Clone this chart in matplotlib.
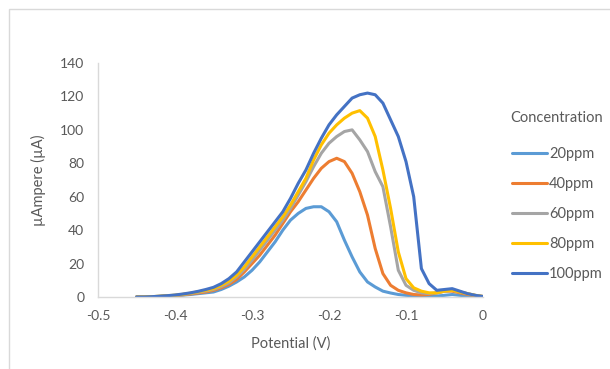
import numpy as np
import matplotlib
matplotlib.use("Agg")
import matplotlib.pyplot as plt
from matplotlib.patches import Rectangle

plt.rcParams['font.family'] = ['Lato', 'DejaVu Sans']

# Potential (V), common grid for all series
potential = [-0.45, -0.44, -0.43, -0.42, -0.41, -0.40, -0.39, -0.38, -0.37, -0.36,
             -0.35, -0.34, -0.33, -0.32, -0.31, -0.30, -0.29, -0.28, -0.27, -0.26,
             -0.25, -0.24, -0.23, -0.22, -0.21, -0.20, -0.19, -0.18, -0.17, -0.16,
             -0.15, -0.14, -0.13, -0.12, -0.11, -0.10, -0.09, -0.08, -0.07, -0.06,
             -0.05, -0.04, -0.03, -0.02, -0.01, 0.00]

ppm20 = [0, 0, 0.1, 0.3, 0.5, 0.8, 1.1, 1.5, 2.0, 2.5,
         3.0, 4.5, 6.5, 9, 12, 16, 21, 27, 33, 40,
         46, 50, 53, 54, 54, 51, 45, 34, 24, 15,
         9, 6, 3.5, 2.4, 1.5, 1.0, 0.7, 0.5, 0.5, 0.6,
         1.0, 1.5, 1.0, 0.5, 0.3, 0.1]
ppm40 = [0, 0, 0.1, 0.3, 0.6, 0.9, 1.3, 1.8, 2.4, 3.0,
         4.0, 5.5, 7.5, 10.5, 15, 20, 25, 31, 37, 44,
         51, 57, 64, 71, 77, 81, 83, 81, 74, 63,
         49, 29, 14, 7, 4, 2.5, 1.5, 1.2, 1.5, 2.5,
         3.5, 3.5, 2.5, 1.5, 0.8, 0.3]
ppm60 = [0, 0, 0.2, 0.4, 0.7, 1.0, 1.5, 2.1, 2.8, 3.6,
         4.5, 6.2, 8.5, 12, 16.5, 22, 28, 34, 40, 46,
         53, 61, 69, 78, 86, 92, 96, 99, 100, 94,
         87, 75, 66, 42, 16, 7, 4, 2.5, 2, 2.5,
         3.5, 4, 3, 2, 1, 0.3]
ppm80 = [0, 0, 0.2, 0.5, 0.8, 1.1, 1.6, 2.3, 3.1, 4.0,
         5.0, 7.0, 9.5, 13, 18, 24, 30, 36, 42, 48,
         55, 63, 71, 82, 91, 98, 103, 107, 110, 111.5,
         107, 96, 76, 53, 27, 11, 5.5, 3.5, 2.5, 2.5,
         3.5, 4, 3, 2, 1, 0.3]
ppm100 = [0, 0, 0.2, 0.5, 0.8, 1.2, 1.8, 2.5, 3.4, 4.5,
          5.8, 8, 11, 15, 21, 27, 33, 39, 45, 51,
          59, 68, 76, 86, 95, 103, 109, 114, 119, 121,
          122, 121, 116, 106, 96, 81, 60, 17, 8, 4,
          4.5, 5, 3.5, 2, 1, 0.3]

series = [ppm20, ppm40, ppm60, ppm80, ppm100]
labels = ['20ppm', '40ppm', '60ppm', '80ppm', '100ppm']
colors = ['#5B9BD5', '#ED7D31', '#A5A5A5', '#FFC000', '#4472C4']

fig = plt.figure(figsize=(6.1, 3.69), dpi=100)
ax = fig.add_axes([0.1607, 0.1951, 0.6311, 0.6342])

for vals, lab, col in zip(series, labels, colors):
    ax.plot(potential, vals, color=col, linewidth=2.2, label=lab,
            solid_capstyle='round', solid_joinstyle='round')

ax.set_xlim(-0.5, 0)
ax.set_ylim(0, 140)
ax.set_xticks([-0.5, -0.4, -0.3, -0.2, -0.1, 0])
ax.set_xticklabels(['-0.5', '-0.4', '-0.3', '-0.2', '-0.1', '0'])
ax.set_yticks(range(0, 141, 20))

for s in ['top', 'right']:
    ax.spines[s].set_visible(False)
for s in ['left', 'bottom']:
    ax.spines[s].set_color('#D9D9D9')
    ax.spines[s].set_linewidth(1)
ax.tick_params(length=0, colors='#595959', labelsize=10)
ax.tick_params(axis='y', pad=10)
ax.tick_params(axis='x', pad=9)

ax.set_xlabel('Potential (V)', fontsize=10.5, color='#595959', labelpad=11)
ax.set_ylabel('µAmpere (µA)', fontsize=10.5, color='#595959', labelpad=10)

# legend title drawn separately so the gap to the entries matches
fig.text(510 / 610, 1 - 118 / 369, 'Concentration', fontsize=10.5, color='#595959',
         ha='left', va='center')
leg = ax.legend(loc='upper left', bbox_to_anchor=(512 / 610, 1 - 147 / 369),
                bbox_transform=fig.transFigure, frameon=False,
                fontsize=10.5, handlelength=2.4, handletextpad=0.15,
                labelspacing=1.1, borderpad=0, borderaxespad=0)
for t in leg.get_texts():
    t.set_color('#595959')

# chart border
fig.add_artist(Rectangle((9 / 610, -0.1), 1.2, 1.1 - 9 / 369, transform=fig.transFigure,
                         fill=False, edgecolor='#D9D9D9', linewidth=1))

fig.savefig('out.png', dpi=100)
